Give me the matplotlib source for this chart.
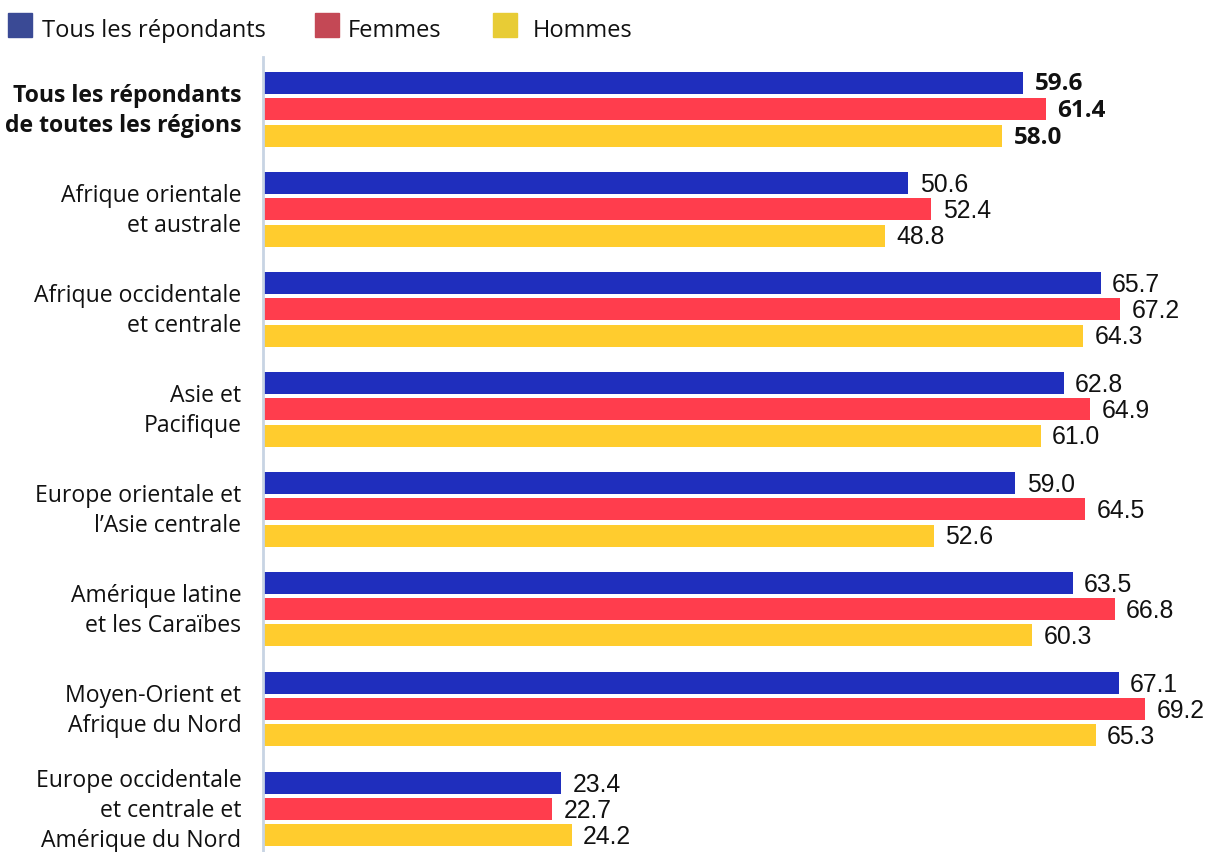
import matplotlib.pyplot as plt
from matplotlib.patches import Rectangle

plt.rcParams['font.family'] = ['Open Sans', 'Noto Sans', 'DejaVu Sans']

regions = ["Tous les répondants\nde toutes les régions",
           "Afrique orientale\net australe",
           "Afrique occidentale\net centrale",
           "Asie et\nPacifique",
           "Europe orientale et\nl’Asie centrale",
           "Amérique latine\net les Caraïbes",
           "Moyen-Orient et\nAfrique du Nord",
           "Europe occidentale\net centrale et\nAmérique du Nord"]
tous = [59.6, 50.6, 65.7, 62.8, 59.0, 63.5, 67.1, 23.4]
femmes = [61.4, 52.4, 67.2, 64.9, 64.5, 66.8, 69.2, 22.7]
hommes = [58.0, 48.8, 64.3, 61.0, 52.6, 60.3, 65.3, 24.2]

series = [("Tous les répondants", tous, "#1f2ebd", "#3a4a95"),
          ("Femmes", femmes, "#ff3d4d", "#c44855"),
          ("Hommes", hommes, "#ffcc2e", "#e8cc35")]
offsets = [-0.265, 0.0, 0.265]

W, H = 1211, 852
fig = plt.figure(figsize=(W / 100, H / 100), dpi=100)
ax = fig.add_axes([263 / W, 0, (W - 263) / W, (H - 57) / H])

for (name, vals, col, _), off in zip(series, offsets):
    for i, v in enumerate(vals):
        ax.barh(i + off, v, height=0.22, color=col)
        if i == 0:
            ax.text(v + 0.9, i + off + 0.02, f"{v:.1f}", va='center', ha='left',
                    fontsize=17.5, color='#111111', fontweight='bold')
        else:
            ax.text(v + 0.9, i + off + 0.02, f"{v:.1f}", va='center', ha='left',
                    fontsize=17.8, color='#111111', family='Liberation Sans')

for i, r in enumerate(regions):
    ax.text(-1.7, i + 0.02, r, ha='right', va='center', fontsize=16.6,
            color='#111111', linespacing=1.36,
            fontweight='bold' if i == 0 else 'normal')

ax.set_xlim(0, (W - 263) / 12.75)
ax.set_ylim(7.43, -0.52)
ax.set_xticks([])
ax.set_yticks([])
for s in ['top', 'right', 'bottom']:
    ax.spines[s].set_visible(False)
ax.spines['left'].set_color('#c8d4e3')
ax.spines['left'].set_linewidth(2)

# legend
leg = [(8, 42), (315, 348), (493, 533)]
for (name, _, _, lcol), (sx, tx) in zip(series, leg):
    fig.patches.append(Rectangle((sx / W, 1 - 37 / H), 24 / W, 24 / H,
                                 transform=fig.transFigure, color=lcol))
    fig.text(tx / W, 1 - 31 / H, name, ha='left', va='center',
             fontsize=17, color='#111111')

plt.savefig("out.png", dpi=100)
